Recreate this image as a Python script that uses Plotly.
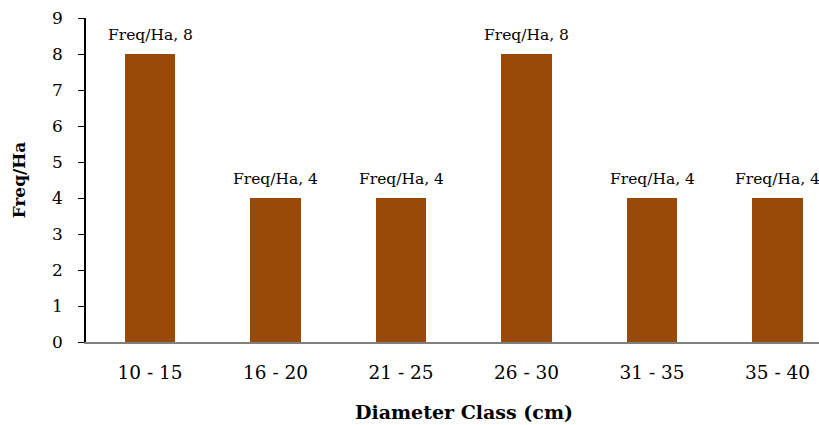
import plotly.graph_objects as go

categories = ["10 - 15", "16 - 20", "21 - 25", "26 - 30", "31 - 35", "35 - 40"]
freq_per_ha = [8, 4, 4, 8, 4, 4]
series_name = "Freq/Ha"

labels = [f"{series_name}, {v}" for v in freq_per_ha]
xpos = list(range(len(categories)))

FONT = "DejaVu Serif"

fig = go.Figure()
fig.add_trace(go.Bar(
    x=xpos, y=freq_per_ha,
    marker=dict(color="#9A4A08", line=dict(width=0)),
    width=0.4, hoverinfo="skip",
))
for xi, yi, lab in zip(xpos, freq_per_ha, labels):
    fig.add_annotation(
        x=xi, y=yi, xref="x", yref="y", text=lab, showarrow=False,
        yanchor="bottom", yshift=8,
        font=dict(family=FONT, size=15.5, color="#000000"),
    )

fig.update_layout(
    width=819, height=425,
    margin=dict(l=86, r=0, t=18, b=83, autoexpand=False),
    plot_bgcolor="white", paper_bgcolor="white",
    showlegend=False,
    font=dict(family=FONT, color="#000000"),
    bargap=0,
)
fig.update_xaxes(
    range=[-0.51, 5.33], automargin=False,
    tickmode="array", tickvals=xpos, ticktext=categories,
    tickfont=dict(size=18.5, family=FONT),
    showline=True, linecolor="#808080", linewidth=1.5,
    ticks="", showgrid=False, zeroline=False,
    ticklabelstandoff=13,
)
fig.update_yaxes(
    range=[0, 9], dtick=1, automargin=False,
    tickfont=dict(size=17, family=FONT),
    showline=True, linecolor="#000000", linewidth=1.5,
    ticks="outside", ticklen=6, tickcolor="#000000",
    showgrid=False, zeroline=False,
    ticklabelstandoff=12,
    title=dict(text="<b>Freq/Ha</b>", font=dict(size=17, family=FONT), standoff=22),
)
fig.add_annotation(
    x=2.5, xref="x", y=0, yref="paper", yshift=-57, yanchor="top",
    text="<b>Diameter Class (cm)</b>", showarrow=False,
    font=dict(size=19, family=FONT),
)

fig.write_html(
    "out.html",
    config={"displayModeBar": False},
    post_script="document.body.style.margin='0';document.body.style.overflow='hidden';",
)
